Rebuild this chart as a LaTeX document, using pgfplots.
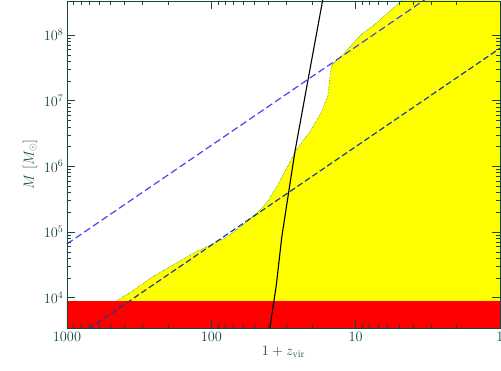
\documentclass[border=0pt]{standalone}
\usepackage{pgfplots}
\pgfplotsset{compat=1.18}
\definecolor{axc}{RGB}{20,70,70}
\definecolor{bl1}{RGB}{70,70,235}
\definecolor{bl2}{RGB}{25,60,150}
\definecolor{yel}{RGB}{255,255,0}
\definecolor{rd}{RGB}{255,0,0}
\begin{document}
\begin{tikzpicture}
\begin{axis}[name=ax, at={(0,0)}, anchor=south west,
  scale only axis, width=433bp, height=327bp,
  xmode=log, ymode=log, x dir=reverse,
  xmin=1, xmax=1000, ymin=3460, ymax=3.3e8,
  xtick={1,10,100,1000}, xticklabels={1,10,100,1000},
  ytick={1e4,1e5,1e6,1e7,1e8}, yticklabels={$10^4$,$10^5$,$10^6$,$10^7$,$10^8$},
  tick align=inside, major tick length=8bp, minor tick length=4.5bp,
  axis line style={axc, line width=0.8bp},
  every tick/.style={axc, line width=0.6bp},
  tick label style={font=\fontsize{14.4}{16}\selectfont, color=axc},
  label style={font=\fontsize{14.4}{16}\selectfont, color=axc},
  xlabel={$1+z_{\rm vir}$}, ylabel={$M$ [$M_\odot$]},
  xlabel style={yshift=2bp},
  axis on top, clip=true,
]
% yellow region
\addplot[fill=yel, draw=none] coordinates {
(460,5000) (451,9000) (349,1.28e4) (267,1.96e4) (203,2.79e4) (134,4.75e4)
(102,6.3e4) (78.2,8.4e4) (60.5,1.28e5) (48.4,1.96e5) (41.3,2.79e5)
(35.2,4.9e5) (28.6,1.15e6) (25.6,1.83e6) (20.8,3.34e6) (17.2,6.8e6)
(15.6,1.19e7) (15.1,2.18e7) (14.7,3.45e7) (13.5,4.1e7) (11.5,5.9e7)
(9.38,9.7e7) (7.16,1.53e8) (4.97,3.1e8) (4.2,4.5e8) (0.5,4.5e8) (0.5,5000)
} -- cycle;
\addplot[green!50!black, densely dotted, line width=0.5bp] coordinates {
(451,9000) (349,1.28e4) (267,1.96e4) (203,2.79e4) (134,4.75e4)
(102,6.3e4) (78.2,8.4e4) (60.5,1.28e5) (48.4,1.96e5) (41.3,2.79e5)
(35.2,4.9e5) (28.6,1.15e6) (25.6,1.83e6) (20.8,3.34e6) (17.2,6.8e6)
(15.6,1.19e7) (15.1,2.18e7) (14.7,3.45e7) (13.5,4.1e7) (11.5,5.9e7)
(9.38,9.7e7) (7.16,1.53e8) (4.97,3.1e8) (4.2,4.5e8)
};
% red band
\addplot[fill=rd, draw=none] coordinates {(2000,1000) (0.5,1000) (0.5,9000) (2000,9000)} -- cycle;
% dashed lines
\addplot[bl1, line width=1.2bp, dash pattern=on 7bp off 3.5bp] coordinates {(1000,6.6e4) (1,2.09e9)};
\addplot[bl2, line width=1.2bp, dash pattern=on 6bp off 3bp] coordinates {(1000,2.0e3) (1,6.3e7)};
% black line
\addplot[black, line width=1.1bp] coordinates {
(15.1,1.2e9) (16.8,3.71e8) (21.3,2.18e7) (26.4,1.64e6) (32.5,8.4e4)
(35.5,1.53e4) (39.4,3340) (42.3,1070)
};
\end{axis}
\pgfresetboundingbox
\path ([shift={(-67bp,-43bp)}]ax.south west) rectangle ([shift={(1bp,1bp)}]ax.north east);
\end{tikzpicture}
\end{document}
